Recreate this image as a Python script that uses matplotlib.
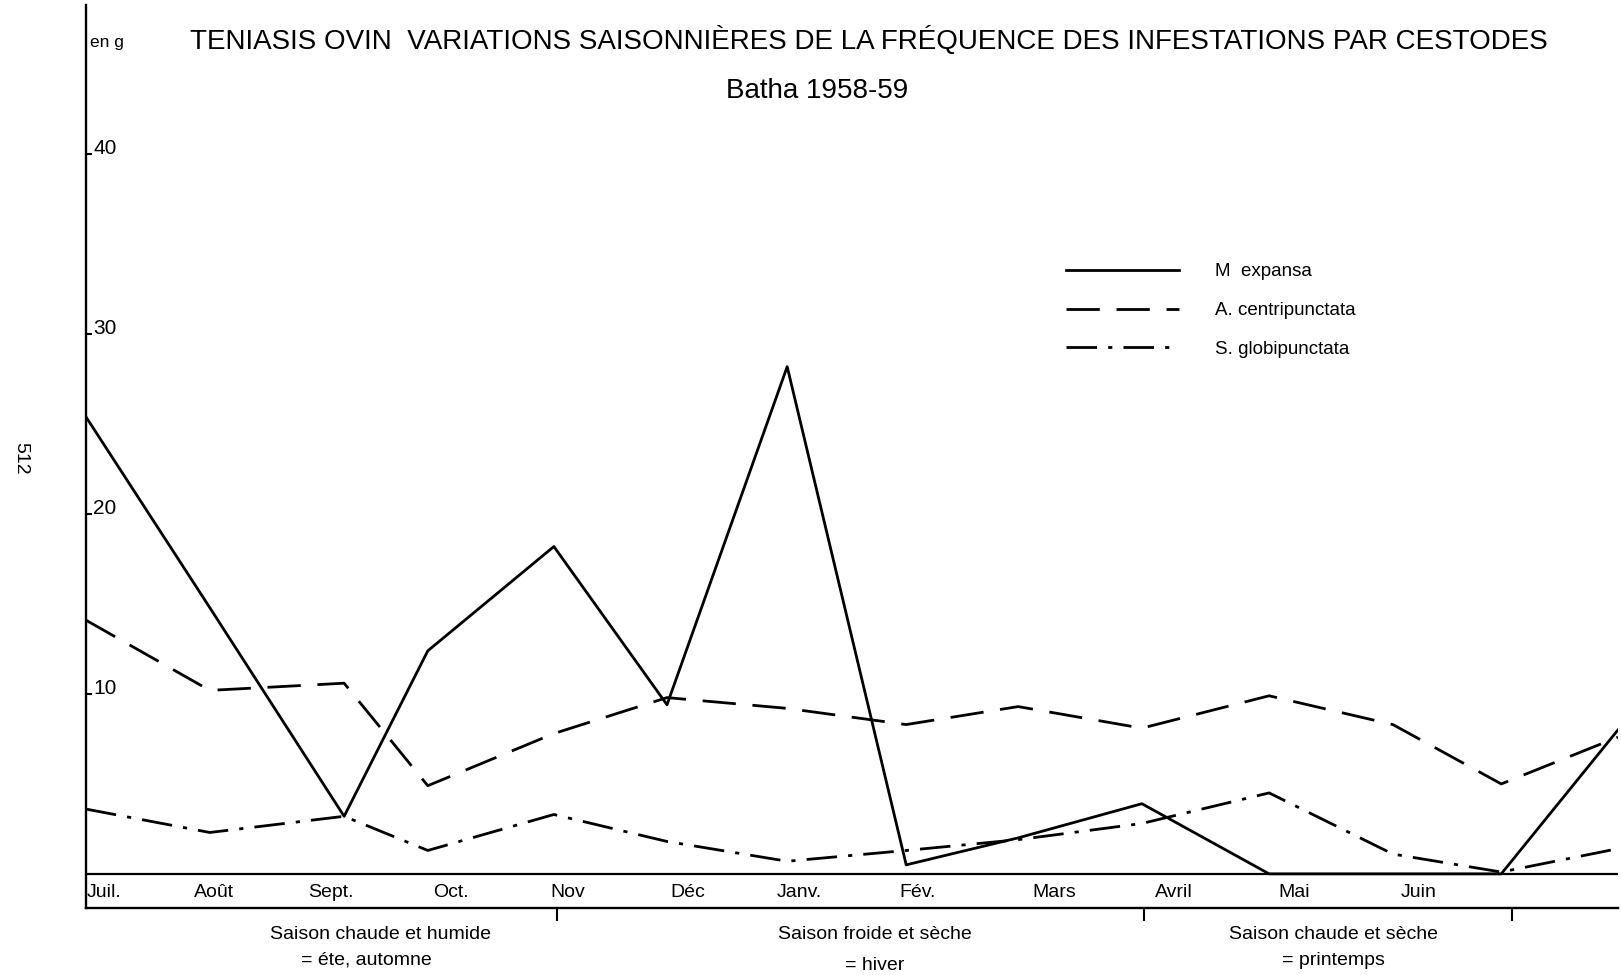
import matplotlib.pyplot as plt

# Valeurs (en g), une par mois, Juil. 1958 -> Juil. 1959
mois_pos = [0, 1.05, 2.19, 2.90, 3.97, 4.93, 5.95, 6.96, 7.91, 8.96, 10.04, 11.09, 12.01, 13]
m_expansa = [25.4, 14.8, 3.2, 12.4, 18.2, 9.4, 28.2, 0.5, 2.0, 3.9, 0.0, 0.0, 0.0, 8.0]
a_centripunctata = [14.1, 10.2, 10.6, 4.9, 7.8, 9.8, 9.2, 8.3, 9.3, 8.1, 9.9, 8.3, 5.0, 7.6]
s_globipunctata = [3.6, 2.3, 3.2, 1.3, 3.3, 1.8, 0.7, 1.3, 1.9, 2.8, 4.5, 1.1, 0.1, 1.4]

mois = ['Juil.', 'Août', 'Sept.', 'Oct.', 'Nov', 'Déc', 'Janv.', 'Fév.', 'Mars', 'Avril', 'Mai', 'Juin']
mois_label_pos = [0.15, 1.09, 2.08, 3.10, 4.09, 5.11, 6.05, 7.06, 8.22, 9.23, 10.25, 11.31]
saisons_pos = [4.0, 8.98, 12.1]

plt.rcParams['font.family'] = ['Liberation Sans', 'DejaVu Sans']

fig = plt.figure(figsize=(16.21, 9.75), dpi=100)
ax = fig.add_axes([0.0531, 0.0687, 0.945, 0.926])

ax.plot(mois_pos, m_expansa, color='black', lw=2.0, label='M  expansa')
ax.plot(mois_pos, a_centripunctata, color='black', lw=2.0, dashes=(12, 6),
        label='A. centripunctata')
ax.plot(mois_pos, s_globipunctata, color='black', lw=2.0, dashes=(11, 4, 1.5, 4),
        label='S. globipunctata')
ax.axhline(0, color='black', lw=1.6)

ax.set_xlim(0, 13)
ax.set_ylim(-1.9, 48.3)
for s in ['top', 'right']:
    ax.spines[s].set_visible(False)
ax.spines['left'].set_linewidth(1.7)
ax.spines['bottom'].set_linewidth(1.7)

ax.set_yticks([10, 20, 30, 40])
ax.tick_params(axis='y', direction='in', length=4, width=1.5, pad=-5, labelsize=15)
for lab in ax.get_yticklabels():
    lab.set_horizontalalignment('left')
    lab.set_verticalalignment('baseline')
ax.set_xticks(saisons_pos)
ax.set_xticklabels([])
ax.tick_params(axis='x', direction='out', length=9, width=1.5)

for x, m in zip(mois_label_pos, mois):
    ax.text(x, -1.05, m, ha='center', va='center', fontsize=14)

ax.text(0.03, 46.2, 'en g', ha='left', va='center', fontsize=12.5)

leg = ax.legend(loc='upper left', bbox_to_anchor=(0.629, 0.733), frameon=False,
                fontsize=13.5, handlelength=6.0, labelspacing=1.16, handletextpad=1.9)

fig.text(0.536, 0.958, 'TENIASIS OVIN  VARIATIONS SAISONNIÈRES DE LA FRÉQUENCE DES INFESTATIONS PAR CESTODES',
         ha='center', va='center', fontsize=20)
fig.text(0.504, 0.907, 'Batha 1958-59', ha='center', va='center', fontsize=20)

fig.text(0.2347, 0.042, 'Saison chaude et humide', ha='center', va='center', fontsize=14)
fig.text(0.2258, 0.015, '= éte, automne', ha='center', va='center', fontsize=14)
fig.text(0.5395, 0.042, 'Saison froide et sèche', ha='center', va='center', fontsize=14)
fig.text(0.5395, 0.010, '= hiver', ha='center', va='center', fontsize=14)
fig.text(0.8227, 0.042, 'Saison chaude et sèche', ha='center', va='center', fontsize=14)
fig.text(0.8226, 0.015, '= printemps', ha='center', va='center', fontsize=14)

fig.text(0.013, 0.530, '512', rotation=-90, ha='center', va='center', fontsize=14)

fig.savefig('out.png', dpi=100)
